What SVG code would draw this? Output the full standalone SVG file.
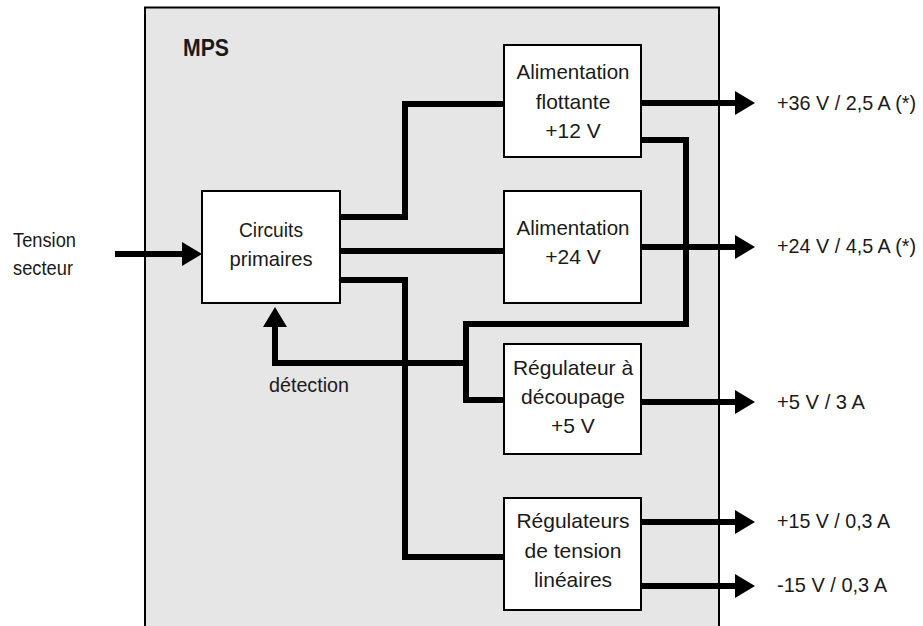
<svg xmlns="http://www.w3.org/2000/svg" width="923" height="626" viewBox="0 0 923 626">
<style>
.t{font-family:"Liberation Sans",Arial,sans-serif;font-size:21px;fill:#1a1a1a}
.c{text-anchor:middle}
.b{font-weight:bold;font-size:24px}
.box{fill:#fff;stroke:#000;stroke-width:2}
.w{fill:none;stroke:#000;stroke-width:6;stroke-linejoin:miter;stroke-linecap:butt}
.a{marker-end:url(#ah)}
</style>
<defs>
<marker id="ah" markerUnits="userSpaceOnUse" viewBox="0 0 20 24" refX="1" refY="12" markerWidth="20" markerHeight="24" orient="auto">
<path d="M0,0 L20,12 L0,24 z" fill="#000"/>
</marker>
</defs>
<g id="mps">
<rect x="145" y="7.5" width="574" height="640" fill="#e6e6e6" stroke="#000" stroke-width="2"/>
<text class="t b" x="183" y="56" textLength="46" lengthAdjust="spacingAndGlyphs">MPS</text>
</g>
<g id="input-label">
<text class="t" x="13" y="247" textLength="63" lengthAdjust="spacingAndGlyphs">Tension</text>
<text class="t" x="13" y="275" textLength="60" lengthAdjust="spacingAndGlyphs">secteur</text>
</g>
<g id="connectors">
<path class="w a" d="M115,254 H183"/>
<path class="w" d="M340,217 H405 V104 H504"/>
<path class="w" d="M340,251 H504"/>
<path class="w" d="M340,280 H405 V557 H504"/>
<path class="w" d="M641,140 H686 V324 H466 V400 H504"/>
<path class="w a" d="M466,363 H275 V326"/>
<path class="w a" d="M641,103 H736"/>
<path class="w a" d="M641,247 H736"/>
<path class="w a" d="M641,402 H736"/>
<path class="w a" d="M641,522 H736"/>
<path class="w a" d="M641,586 H736"/>
</g>
<g id="circuits">
<rect class="box" x="202" y="191" width="138" height="112"/>
<text class="t c" x="271" y="237" textLength="64" lengthAdjust="spacingAndGlyphs">Circuits</text>
<text class="t c" x="271" y="266" textLength="83" lengthAdjust="spacingAndGlyphs">primaires</text>
</g>
<g id="alim-flottante">
<rect class="box" x="504" y="45" width="137" height="112"/>
<text class="t c" x="573" y="79" textLength="113" lengthAdjust="spacingAndGlyphs">Alimentation</text>
<text class="t c" x="573" y="108.5">flottante</text>
<text class="t c" x="573" y="138">+12 V</text>
</g>
<g id="alim-24">
<rect class="box" x="504" y="191" width="137" height="112"/>
<text class="t c" x="573" y="235" textLength="113" lengthAdjust="spacingAndGlyphs">Alimentation</text>
<text class="t c" x="573" y="264">+24 V</text>
</g>
<g id="regulateur-decoupage">
<rect class="box" x="504" y="344" width="137" height="110"/>
<text class="t c" x="573" y="375">Régulateur à</text>
<text class="t c" x="573" y="404">découpage</text>
<text class="t c" x="573" y="433">+5 V</text>
</g>
<g id="regulateurs-lineaires">
<rect class="box" x="504" y="498" width="137" height="112"/>
<text class="t c" x="573" y="528">Régulateurs</text>
<text class="t c" x="573" y="557.5">de tension</text>
<text class="t c" x="573" y="587">linéaires</text>
</g>
<g id="detection-label">
<text class="t c" x="309" y="392" textLength="80" lengthAdjust="spacingAndGlyphs">détection</text>
</g>
<g id="outputs">
<text class="t" x="777" y="109.5" textLength="139" lengthAdjust="spacingAndGlyphs">+36 V / 2,5 A (*)</text>
<text class="t" x="777" y="253" textLength="139" lengthAdjust="spacingAndGlyphs">+24 V / 4,5 A (*)</text>
<text class="t" x="777" y="409" textLength="88" lengthAdjust="spacingAndGlyphs">+5 V / 3 A</text>
<text class="t" x="777" y="528" textLength="113" lengthAdjust="spacingAndGlyphs">+15 V / 0,3 A</text>
<text class="t" x="777" y="592" textLength="110" lengthAdjust="spacingAndGlyphs">-15 V / 0,3 A</text>
</g>
</svg>
